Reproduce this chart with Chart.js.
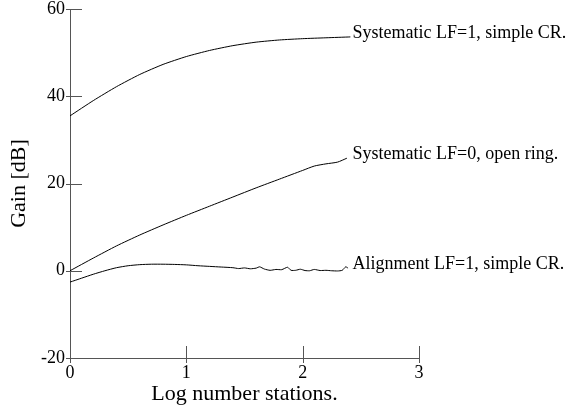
<!DOCTYPE html>
<html>
<head>
<meta charset="utf-8">
<script src="https://cdn.jsdelivr.net/npm/chart.js@4"></script>
<style>
  body { margin: 0; background: #fff; }
  canvas { display: block; }
</style>
</head>
<body>
<canvas id="gain-chart" width="569" height="409"></canvas>
<script>
// Gain vs log number of stations

const xTop = [0, 0.2, 0.4, 0.6, 0.8, 1.0, 1.2, 1.4, 1.6, 1.8, 2.0, 2.2, 2.41];
const gainTop = [35.5, 39.0, 42.2, 45.0, 47.3, 49.1, 50.5, 51.6, 52.4, 52.9, 53.2, 53.4, 53.6];

const xMid = [0, 0.2, 0.4, 0.6, 0.8, 1.0, 1.2, 1.4, 1.6, 1.8, 2.0, 2.1, 2.2, 2.3, 2.38];
const gainMid = [0, 2.9, 5.7, 8.2, 10.5, 12.7, 14.8, 16.9, 19.0, 21.0, 23.0, 24.0, 24.5, 24.9, 25.8];

const xAlign = [0, 0.1, 0.2, 0.3, 0.4, 0.5, 0.6, 0.7, 0.8, 0.9, 1.0, 1.1, 1.2, 1.3, 1.4, 1.45, 1.5, 1.55, 1.6, 1.63, 1.67, 1.72, 1.77, 1.82, 1.87, 1.9, 1.94, 1.98, 2.02, 2.06, 2.1, 2.15, 2.2, 2.25, 2.3, 2.34, 2.37, 2.39];
const gainAlign = [-2.6, -1.7, -0.8, 0.0, 0.7, 1.15, 1.4, 1.5, 1.5, 1.45, 1.35, 1.15, 1.0, 0.85, 0.7, 0.5, 0.65, 0.45, 0.6, 0.9, 0.4, 0.1, 0.3, 0.25, 0.8, 0.1, 0.1, 0.35, 0.05, 0.0, 0.3, 0.05, 0.1, 0.0, -0.05, 0.1, 0.9, 0.6];

const seriesLabels = ["Systematic LF=1, simple CR.", "Systematic LF=0, open ring.", "Alignment LF=1, simple CR."];
const xTicks = [0, 1, 2, 3];
const yTicks = [-20, 0, 20, 40, 60];

const serif = "'Liberation Serif', 'Times New Roman', serif";
const axisColor = "#555";

function toPoints(xs, ys) {
    return xs.map((x, i) => ({ x: x, y: ys[i] }));
}

function lineSet(label, xs, ys) {
    return {
        label: label,
        data: toPoints(xs, ys),
        showLine: true,
        borderColor: "#000",
        borderWidth: 1,
        pointRadius: 0,
        tension: 0.2,
        fill: false
    };
}

// tick marks straddling the axes, plus labels at line ends
const extrasPlugin = {
    id: "extras",
    afterDraw(chart) {
        const ctx = chart.ctx;
        const xs = chart.scales.x;
        const ys = chart.scales.y;
        ctx.save();
        ctx.strokeStyle = axisColor;
        ctx.lineWidth = 1;
        yTicks.forEach(v => {
            const py = Math.round(ys.getPixelForValue(v)) + 0.5;
            ctx.beginPath();
            ctx.moveTo(xs.left - 4, py);
            ctx.lineTo(xs.left + 12, py);
            ctx.stroke();
        });
        xTicks.forEach(v => {
            const px = Math.round(xs.getPixelForValue(v)) + 0.5;
            ctx.beginPath();
            ctx.moveTo(px, ys.bottom + 5);
            ctx.lineTo(px, ys.bottom - 12);
            ctx.stroke();
        });

        ctx.fillStyle = "#000";
        ctx.font = "18px " + serif;
        ctx.textAlign = "left";
        ctx.textBaseline = "alphabetic";
        const labelX = xs.getPixelForValue(2.42) + 1;
        chart.data.datasets.forEach((ds, i) => {
            const meta = chart.getDatasetMeta(i);
            const last = meta.data[meta.data.length - 1];
            ctx.fillText(ds.label, labelX, last.y + 1);
        });
        ctx.restore();
    }
};

const gainCanvas = document.getElementById("gain-chart");

let gainChart = new Chart(gainCanvas, {
    type: "scatter",
    data: {
        datasets: [
            lineSet(seriesLabels[0], xTop, gainTop),
            lineSet(seriesLabels[1], xMid, gainMid),
            lineSet(seriesLabels[2], xAlign, gainAlign)
        ]
    },
    options: {
        responsive: false,
        animation: false,
        layout: {
            padding: { top: 9, right: 150, left: 0, bottom: 0 }
        },
        plugins: {
            legend: { display: false },
            tooltip: { enabled: false }
        },
        scales: {
            x: {
                type: "linear",
                min: 0,
                max: 3,
                grid: { display: false, drawTicks: false },
                border: { display: true, color: axisColor, width: 1 },
                ticks: {
                    stepSize: 1,
                    padding: 4,
                    color: "#000",
                    font: { family: serif, size: 18 }
                },
                title: {
                    display: true,
                    text: "Log number stations.",
                    color: "#000",
                    font: { family: serif, size: 22 },
                    padding: { top: 0, bottom: 2 }
                },
                afterFit(scale) {
                    scale.height = 51;
                    scale.paddingLeft = 0;
                    scale.paddingRight = 0;
                }
            },
            y: {
                type: "linear",
                min: -20,
                max: 60,
                grid: { display: false, drawTicks: false },
                border: { display: true, color: axisColor, width: 1 },
                ticks: {
                    stepSize: 20,
                    padding: 5,
                    color: "#000",
                    font: { family: serif, size: 18 }
                },
                title: {
                    display: true,
                    text: "Gain [dB]",
                    color: "#000",
                    font: { family: serif, size: 22 },
                    padding: { top: 6, bottom: 0 }
                },
                afterFit(scale) {
                    scale.width = 70;
                    scale.paddingTop = 0;
                    scale.paddingBottom = 0;
                }
            }
        }
    },
    plugins: [extrasPlugin]
});
</script>
</body>
</html>
